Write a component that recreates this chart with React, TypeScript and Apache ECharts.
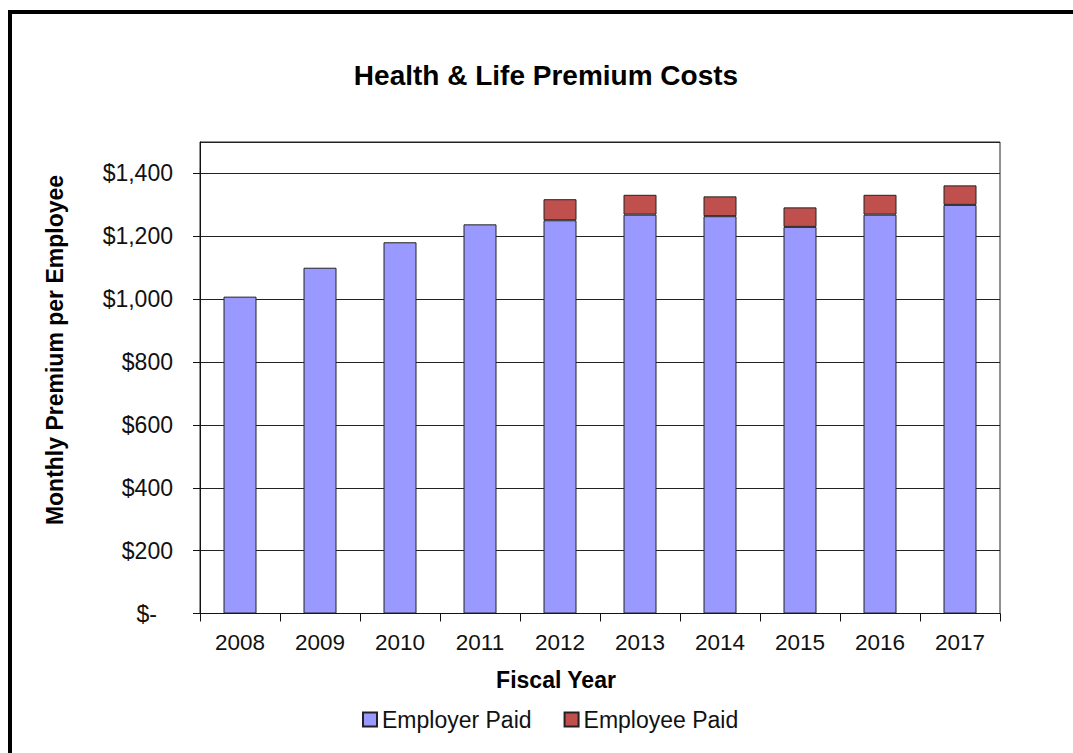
import React, { useEffect, useRef } from "react";
import * as echarts from "echarts";

const years = ["2008", "2009", "2010", "2011", "2012", "2013", "2014", "2015", "2016", "2017"];
const employerPaid = [1008, 1100, 1181, 1238, 1251, 1269, 1264, 1230, 1269, 1300];
const employeePaid = [null, null, null, null, 67, 63, 63, 62, 63, 62];
const seriesNames = ["Employer Paid", "Employee Paid"];
const titleText = "Health & Life Premium Costs";
const xAxisTitle = "Fiscal Year";
const yAxisTitle = "Monthly Premium per Employee";

const FONT = "'Liberation Sans', Arial, sans-serif";

export default function App() {
  const ref = useRef<HTMLDivElement>(null);
  useEffect(() => {
    if (!ref.current) return;
    const chart = echarts.init(ref.current, null, { renderer: "svg" });
    chart.setOption({
      animation: false,
      backgroundColor: "#ffffff",
      textStyle: { fontFamily: FONT },
      grid: {
        left: 200,
        right: 73,
        top: 142,
        bottom: 139.5,
        show: true,
        borderColor: "#222",
        borderWidth: 1,
        backgroundColor: "transparent",
      },
      legend: {
        left: 362,
        top: 708,
        padding: 0,
        itemWidth: 14,
        itemHeight: 14,
        itemGap: 32,
        icon: "rect",
        textStyle: { fontSize: 23, color: "#111", fontFamily: FONT },
        data: seriesNames,
      },
      xAxis: {
        type: "category",
        data: years,
        axisLine: { show: true, lineStyle: { color: "#111", width: 1 } },
        axisTick: { show: true, alignWithLabel: false, length: 8, lineStyle: { color: "#111" } },
        axisLabel: { fontSize: 22.5, color: "#111", margin: 17, fontFamily: FONT },
        splitLine: { show: false },
      },
      yAxis: {
        type: "value",
        min: 0,
        max: 1500,
        interval: 200,
        axisLine: { show: true, lineStyle: { color: "#111", width: 1 } },
        axisTick: { show: true, length: 7, lineStyle: { color: "#111" } },
        axisLabel: {
          fontSize: 23,
          color: "#111",
          margin: 27,
          showMaxLabel: false,
          fontFamily: FONT,
          formatter: (v: number) =>
            v === 0 ? "{z|$-}" : "$" + v.toLocaleString("en-US"),
          rich: { z: { fontSize: 23, color: "#111", padding: [0, 16, 0, 0], fontFamily: FONT } },
        },
        splitLine: { show: true, lineStyle: { color: "#222", width: 1 } },
      },
      series: [
        {
          name: seriesNames[0],
          type: "bar",
          stack: "total",
          data: employerPaid,
          barWidth: 33,
          itemStyle: { color: "#9999FF", borderColor: "#222", borderWidth: 1 },
        },
        {
          name: seriesNames[1],
          type: "bar",
          stack: "total",
          data: employeePaid,
          barWidth: 33,
          itemStyle: { color: "#C0504D", borderColor: "#222", borderWidth: 1 },
        },
      ],
      graphic: [
        {
          type: "rect",
          shape: { x: 10, y: 12, width: 1300, height: 900 },
          style: { fill: "none", stroke: "#000", lineWidth: 4 },
          silent: true,
        },
        {
          type: "text",
          x: 546,
          y: 75,
          style: {
            text: titleText,
            font: `bold 28px ${FONT}`,
            fill: "#000",
            textAlign: "center",
            textVerticalAlign: "middle",
          },
        },
        {
          type: "text",
          x: 556,
          y: 680,
          style: {
            text: xAxisTitle,
            font: `bold 23px ${FONT}`,
            fill: "#000",
            textAlign: "center",
            textVerticalAlign: "middle",
          },
        },
        {
          type: "text",
          x: 55,
          y: 350,
          rotation: Math.PI / 2,
          style: {
            text: yAxisTitle,
            font: `bold 23px ${FONT}`,
            fill: "#000",
            textAlign: "center",
            textVerticalAlign: "middle",
          },
        },
      ],
    });
    return () => chart.dispose();
  }, []);
  return (
    <div
      ref={ref}
      style={{ position: "fixed", left: 0, top: 0, width: 1073, height: 753, background: "#fff" }}
    />
  );
}
